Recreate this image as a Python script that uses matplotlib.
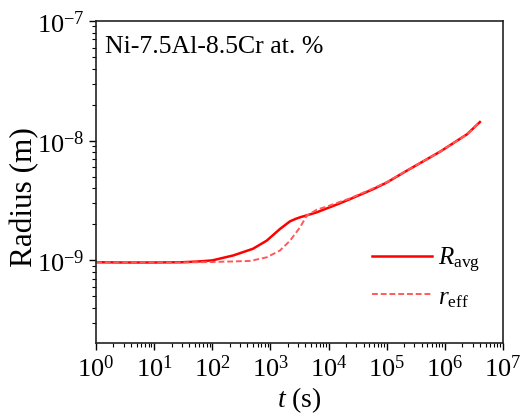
import matplotlib
matplotlib.use("Agg")
import matplotlib.pyplot as plt
from matplotlib.ticker import FixedLocator, LogLocator, LogFormatterMathtext, NullFormatter

# time (s) and radius (m)
t_avg = [1, 3, 10, 30, 60, 100, 230, 500, 860, 1460, 2170, 2700, 3230, 4500,
         6250, 15700, 23400, 58900, 1e5, 2.2e5, 8.3e5, 2.4e6, 4.0e6]
R_avg = [0.965e-9, 0.96e-9, 0.96e-9, 0.965e-9, 0.98e-9, 1.0e-9, 1.1e-9,
         1.25e-9, 1.46e-9, 1.83e-9, 2.12e-9, 2.22e-9, 2.29e-9, 2.4e-9,
         2.52e-9, 3.0e-9, 3.25e-9, 3.94e-9, 4.47e-9, 5.6e-9, 8.1e-9,
         1.13e-8, 1.43e-8]

t_eff = [1, 3, 10, 30, 60, 100, 230, 450, 860, 1460, 2170, 3230, 4210,
         6250, 10000, 23400, 58900, 1e5, 2.2e5, 8.3e5, 2.4e6, 4.0e6]
r_eff = [0.965e-9, 0.96e-9, 0.96e-9, 0.96e-9, 0.965e-9, 0.97e-9, 0.98e-9,
         0.99e-9, 1.06e-9, 1.21e-9, 1.46e-9, 1.89e-9, 2.36e-9,
         2.65e-9, 2.85e-9, 3.3e-9, 4.0e-9, 4.5e-9, 5.62e-9, 8.1e-9,
         1.13e-8, 1.43e-8]

x_ticks = [1e0, 1e1, 1e2, 1e3, 1e4, 1e5, 1e6, 1e7]
y_ticks = [1e-9, 1e-8, 1e-7]

plt.rcParams['font.family'] = 'Liberation Serif'
plt.rcParams['mathtext.fontset'] = 'custom'
plt.rcParams['mathtext.rm'] = 'Liberation Serif'
plt.rcParams['mathtext.it'] = 'Liberation Serif:italic'

fig = plt.figure(figsize=(5.26, 4.14), dpi=100)
ax = fig.add_axes([0.1825, 0.169, 0.7738, 0.778])

ax.plot(t_avg, R_avg, color='#ff0000', lw=1.8, label=r'$R_{\mathrm{avg}}$')
ax.plot(t_eff, r_eff, color='#ff5a5a', lw=1.4, ls=(0, (3, 1.5)), label=r'$r_{\mathrm{eff}}$')

ax.set_xscale('log')
ax.set_yscale('log')
ax.set_xlim(1, 1e7)
ax.set_ylim(2.04e-10, 1e-7)

ax.xaxis.set_major_locator(FixedLocator(x_ticks))
ax.xaxis.set_major_formatter(LogFormatterMathtext())
ax.xaxis.set_minor_locator(LogLocator(base=10, subs=range(2, 10), numticks=20))
ax.xaxis.set_minor_formatter(NullFormatter())
ax.yaxis.set_major_locator(FixedLocator(y_ticks))
ax.yaxis.set_major_formatter(LogFormatterMathtext())
ax.yaxis.set_minor_locator(LogLocator(base=10, subs=range(2, 10), numticks=20))
ax.yaxis.set_minor_formatter(NullFormatter())

ax.tick_params(which='major', direction='out', length=5, width=1, labelsize=19, pad=3)
ax.tick_params(which='minor', direction='out', length=3, width=0.8)
for s in ax.spines.values():
    s.set_linewidth(1.2)
    s.set_color('#222222')

ax.set_xlabel(r'$t$ (s)', fontsize=20)
ax.xaxis.set_label_coords(0.5, -0.128)
ax.set_ylabel('Radius (m)', fontsize=22.5)
ax.yaxis.set_label_coords(-0.14, 0.455)

ax.text(0.022, 0.922, 'Ni-7.5Al-8.5Cr at. %', transform=ax.transAxes,
        fontsize=18.5, va='center', ha='left')

ax.legend(loc='center left', bbox_to_anchor=(0.678, 0.205), frameon=False,
          fontsize=18, handlelength=2.4, handletextpad=0.25, labelspacing=0.45,
          borderpad=0, borderaxespad=0)

fig.savefig('out.png', dpi=100)
